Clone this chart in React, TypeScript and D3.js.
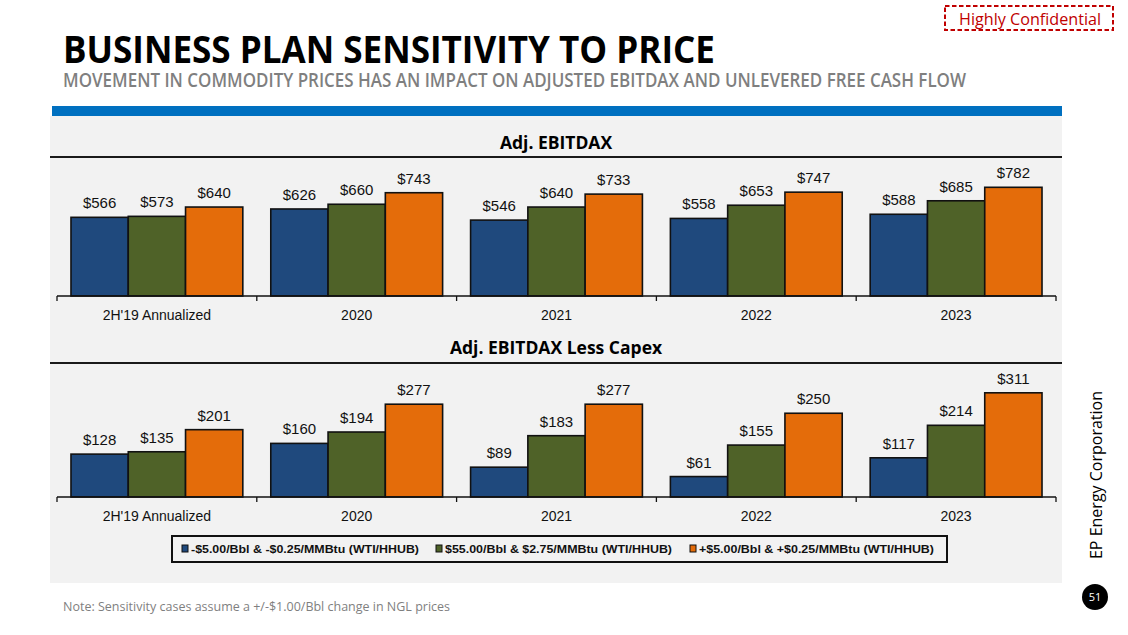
import React from "react";
import * as d3 from "d3";

const categories = ["2H'19 Annualized", "2020", "2021", "2022", "2023"];
const seriesNames = [
  "-$5.00/Bbl & -$0.25/MMBtu (WTI/HHUB)",
  "$55.00/Bbl & $2.75/MMBtu (WTI/HHUB)",
  "+$5.00/Bbl & +$0.25/MMBtu (WTI/HHUB)",
];
const seriesColors = ["#1f497d", "#4f6228", "#e46c0a"];

const ebitdaxLow = [566, 626, 546, 558, 588];
const ebitdaxBase = [573, 660, 640, 653, 685];
const ebitdaxHigh = [640, 743, 733, 747, 782];

const capexLow = [128, 160, 89, 61, 117];
const capexBase = [135, 194, 183, 155, 214];
const capexHigh = [201, 277, 277, 250, 311];

const W = 1128;
const H = 635;

function Panel({
  title,
  titleY,
  lineY,
  baseY,
  yMax,
  series,
  catY,
}: {
  title: string;
  titleY: number;
  lineY: number;
  baseY: number;
  yMax: number;
  series: number[][];
  catY: number;
}) {
  const x0 = d3
    .scaleBand<string>()
    .domain(categories)
    .range([57, 1056])
    .paddingInner(0.14)
    .paddingOuter(0.07);
  const x1 = d3
    .scaleBand<string>()
    .domain(seriesNames)
    .range([0, x0.bandwidth()])
    .padding(0);
  const y = d3.scaleLinear().domain([0, yMax]).range([baseY, lineY]);
  const step = x0.step();
  const tickXs = d3.range(categories.length + 1).map((i) => 57 + i * step);

  return (
    <g>
      <text
        x={556}
        y={titleY}
        textAnchor="middle"
        fontFamily="'Open Sans', sans-serif"
        fontWeight={700}
        fontSize={17.5}
        fill="#000"
      >
        {title}
      </text>
      <line x1={50} x2={1062} y1={lineY} y2={lineY} stroke="#1a1a1a" strokeWidth={2.2} />
      {categories.map((c, ci) => (
        <g key={c}>
          {series.map((vals, si) => {
            const bx = (x0(c) ?? 0) + (x1(seriesNames[si]) ?? 0);
            const bw = x1.bandwidth();
            const top = y(vals[ci]);
            return (
              <g key={si}>
                <rect
                  x={bx}
                  y={top}
                  width={bw}
                  height={baseY - top}
                  fill={seriesColors[si]}
                  stroke="#111"
                  strokeWidth={1.6}
                />
                <text
                  x={bx + bw / 2}
                  y={top - 9}
                  textAnchor="middle"
                  fontFamily="Arial, 'Liberation Sans', sans-serif"
                  fontSize={15}
                  fill="#111"
                >
                  {"$" + d3.format(",")(vals[ci])}
                </text>
              </g>
            );
          })}
          <text
            x={(x0(c) ?? 0) + x0.bandwidth() / 2}
            y={catY}
            textAnchor="middle"
            fontFamily="Arial, 'Liberation Sans', sans-serif"
            fontSize={14}
            fill="#111"
          >
            {c}
          </text>
        </g>
      ))}
      <line x1={57} x2={1056} y1={baseY} y2={baseY} stroke="#111" strokeWidth={1.5} />
      {tickXs.map((tx, i) => (
        <line key={i} x1={tx} x2={tx} y1={baseY} y2={baseY + 5} stroke="#111" strokeWidth={1.3} />
      ))}
    </g>
  );
}

export default function App() {
  const legendX = [182, 436, 690];
  const legendW = [237, 236, 244];
  return (
    <svg
      width={W}
      height={H}
      viewBox={`0 0 ${W} ${H}`}
      style={{ position: "absolute", left: 0, top: 0, background: "#fff" }}
    >
      <rect x={0} y={0} width={W} height={H} fill="#fff" />
      {/* Highly Confidential */}
      <rect
        x={945}
        y={6}
        width={168}
        height={24}
        fill="none"
        stroke="#c00000"
        strokeWidth={2}
        strokeDasharray="4.5,2.5"
      />
      <text
        x={1030}
        y={25}
        textAnchor="middle"
        fontFamily="'Open Sans', sans-serif"
        fontSize={16.5}
        fill="#c00000"
        textLength={142}
        lengthAdjust="spacingAndGlyphs"
      >
        Highly Confidential
      </text>
      {/* Title */}
      <text
        x={63}
        y={62.5}
        fontFamily="'Open Sans', sans-serif"
        fontWeight={700}
        fontSize={37}
        fill="#000"
        textLength={652}
        lengthAdjust="spacingAndGlyphs"
      >
        BUSINESS PLAN SENSITIVITY TO PRICE
      </text>
      <text
        x={63}
        y={86.5}
        fontFamily="'Open Sans', sans-serif"
        fontWeight={600}
        fontSize={19.5}
        fill="#7f7f7f"
        textLength={903}
        lengthAdjust="spacingAndGlyphs"
      >
        MOVEMENT IN COMMODITY PRICES HAS AN IMPACT ON ADJUSTED EBITDAX AND UNLEVERED FREE CASH FLOW
      </text>
      {/* header bar and panel */}
      <rect x={52} y={106} width={1010} height={10} fill="#0070c0" />
      <rect x={50} y={116} width={1012} height={467} fill="#f2f2f2" />

      <Panel
        title="Adj. EBITDAX"
        titleY={149}
        lineY={157}
        baseY={296}
        yMax={1000}
        series={[ebitdaxLow, ebitdaxBase, ebitdaxHigh]}
        catY={319.5}
      />
      <Panel
        title="Adj. EBITDAX Less Capex"
        titleY={354}
        lineY={363}
        baseY={497}
        yMax={400}
        series={[capexLow, capexBase, capexHigh]}
        catY={521}
      />

      {/* Legend */}
      <rect x={172} y={536} width={775} height={26} fill="#f2f2f2" stroke="#111" strokeWidth={2} />
      {seriesNames.map((s, i) => (
        <g key={s}>
          <rect
            x={legendX[i]}
            y={545}
            width={6}
            height={7}
            fill={seriesColors[i]}
            stroke="#111"
            strokeWidth={1}
          />
          <text
            x={legendX[i] + 9}
            y={553}
            fontFamily="Arial, 'Liberation Sans', sans-serif"
            fontWeight={700}
            fontSize={11.5}
            fill="#111"
            textLength={legendW[i] - 9}
            lengthAdjust="spacingAndGlyphs"
          >
            {s}
          </text>
        </g>
      ))}

      {/* Note */}
      <text
        x={63}
        y={611}
        fontFamily="'Open Sans', sans-serif"
        fontSize={12.5}
        fill="#7f7f7f"
        textLength={387}
        lengthAdjust="spacingAndGlyphs"
      >
        Note: Sensitivity cases assume a +/-$1.00/Bbl change in NGL prices
      </text>

      {/* Side text */}
      <text
        x={0}
        y={0}
        transform="translate(1102,475) rotate(-90)"
        textAnchor="middle"
        fontFamily="'Open Sans', sans-serif"
        fontSize={16}
        fill="#000"
      >
        EP Energy Corporation
      </text>
      <circle cx={1095} cy={597} r={13} fill="#000" />
      <text
        x={1095}
        y={601}
        textAnchor="middle"
        fontFamily="'Open Sans', sans-serif"
        fontSize={11}
        fill="#fff"
      >
        51
      </text>
    </svg>
  );
}
